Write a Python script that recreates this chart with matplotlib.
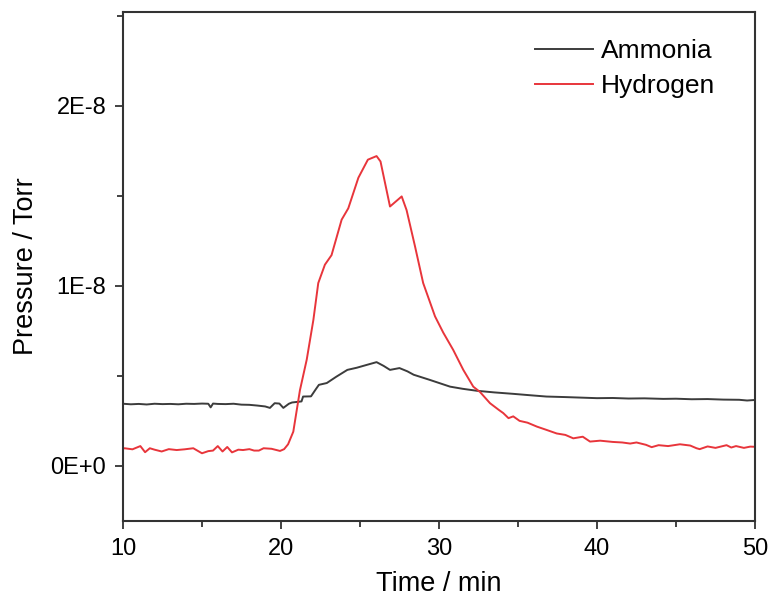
import matplotlib
matplotlib.use("Agg")
import matplotlib.pyplot as plt
import numpy as np
from matplotlib.ticker import FixedLocator, MultipleLocator, FixedFormatter

plt.rcParams['font.family'] = ['Liberation Sans', 'DejaVu Sans']

# Time (min) and pressure (units of 1E-9 Torr)
ammonia_t = [10, 10.5, 11, 11.5, 12, 12.5, 13, 13.5, 14, 14.5, 15, 15.4, 15.55, 15.7, 16, 16.5,
             17, 17.5, 18, 18.5, 19, 19.3, 19.6, 19.9, 20.15, 20.5, 20.7, 21, 21.3, 21.4, 21.9,
             22.2, 22.4, 22.9, 23.5, 24.2, 24.8, 25.4, 26.05, 26.5, 26.9, 27.5, 28.0, 28.4, 29.4,
             30.7, 31.5, 32.4, 33.5, 34.7, 35.8, 36.8, 38, 39, 40, 41, 42, 43, 44.2, 45, 46,
             47, 48, 49, 49.5, 50]
ammonia_p = [3.45, 3.42, 3.44, 3.41, 3.45, 3.43, 3.44, 3.42, 3.45, 3.44, 3.46, 3.45, 3.25, 3.46, 3.44, 3.43,
             3.45, 3.40, 3.39, 3.35, 3.30, 3.22, 3.48, 3.46, 3.22, 3.45, 3.52, 3.55, 3.58, 3.85, 3.86,
             4.25, 4.5, 4.6, 4.95, 5.33, 5.45, 5.6, 5.76, 5.55, 5.33, 5.43, 5.25, 5.06, 4.78,
             4.40, 4.28, 4.17, 4.08, 4.00, 3.92, 3.85, 3.82, 3.79, 3.76, 3.77, 3.74, 3.75, 3.72, 3.73, 3.70,
             3.71, 3.68, 3.67, 3.63, 3.66]

hydrogen_t = [10, 10.1, 10.6, 11.1, 11.4, 11.7, 12.0, 12.45, 12.9, 13.4, 13.9, 14.45, 15.0, 15.4,
              15.7, 16.0, 16.3, 16.6, 16.9, 17.3, 17.6, 18.0, 18.3, 18.6, 18.9, 19.4, 19.94,
              20.2, 20.45, 20.78, 21.2, 21.63, 22.05, 22.36, 22.78, 23.2, 23.84, 24.26, 24.9,
              25.5, 26.05, 26.3, 26.9, 27.64, 27.95, 28.48, 29.0, 29.75, 30.27, 30.9, 31.54,
              32.17, 32.6, 33.23, 33.8, 34.07, 34.4, 34.7, 35.1, 35.6, 36.2, 36.8, 37.45, 38.0,
              38.5, 39.1, 39.56, 40.2, 41.0, 41.6, 42.1, 42.5, 43.1, 43.46, 43.9, 44.5, 45.25,
              45.9, 46.3, 46.5, 47.0, 47.5, 48.2, 48.5, 48.8, 49.3, 49.7, 50]
hydrogen_p = [0.95, 0.98, 0.92, 1.10, 0.76, 0.98, 0.90, 0.80, 0.93, 0.88, 0.92, 0.98, 0.70, 0.82,
              0.85, 1.10, 0.80, 1.05, 0.75, 0.90, 0.88, 0.93, 0.85, 0.85, 0.98, 0.95, 0.83,
              0.93, 1.2, 1.9, 4.2, 5.9, 8.1, 10.15, 11.17, 11.7, 13.67, 14.3, 16.0,
              17.0, 17.2, 16.9, 14.4, 14.96, 14.2, 12.2, 10.15, 8.3, 7.4, 6.44, 5.33,
              4.4, 4.1, 3.48, 3.1, 2.93, 2.65, 2.75, 2.5, 2.4, 2.18, 2.0, 1.8, 1.72,
              1.53, 1.62, 1.35, 1.40, 1.33, 1.30, 1.24, 1.30, 1.17, 1.04, 1.15, 1.10, 1.20,
              1.13, 0.98, 0.93, 1.08, 1.0, 1.15, 1.02, 1.10, 1.0, 1.07, 1.06]

x_ticks = [10, 20, 30, 40, 50]
y_ticks = [0, 1e-8, 2e-8]
y_tick_labels = ["0E+0", "1E-8", "2E-8"]

fig = plt.figure(figsize=(7.70, 5.99), dpi=100)
ax = fig.add_axes([0.1597, 0.1302, 0.8208, 0.8498])

ax.plot(ammonia_t, np.array(ammonia_p) * 1e-9, color='#3c3c3c', lw=1.4, label='Ammonia')
ax.plot(hydrogen_t, np.array(hydrogen_p) * 1e-9, color='#e8353b', lw=1.4, label='Hydrogen')

ax.set_xlim(10, 50)
ax.set_ylim(-0.306e-8, 2.52e-8)
ax.xaxis.set_major_locator(FixedLocator(x_ticks))
ax.xaxis.set_minor_locator(MultipleLocator(5))
ax.yaxis.set_major_locator(FixedLocator(y_ticks))
ax.yaxis.set_major_formatter(FixedFormatter(y_tick_labels))
ax.yaxis.set_minor_locator(MultipleLocator(0.5e-8))

for s in ax.spines.values():
    s.set_color('#333333')
    s.set_linewidth(1.5)
ax.tick_params(which='both', direction='out', color='#333333', width=1.3,
               top=False, right=False)
ax.tick_params(which='major', length=6, labelsize=17, pad=6)
ax.tick_params(which='minor', length=4)

ax.set_xlabel('Time / min', fontsize=19.5, labelpad=8)
ax.set_ylabel('Pressure / Torr', fontsize=19.5, labelpad=8)

leg = ax.legend(loc='upper right', frameon=False, fontsize=19, handlelength=2.2,
                handletextpad=0.3, labelspacing=0.42, bbox_to_anchor=(0.974, 0.993))

fig.savefig('out.png', dpi=100)
